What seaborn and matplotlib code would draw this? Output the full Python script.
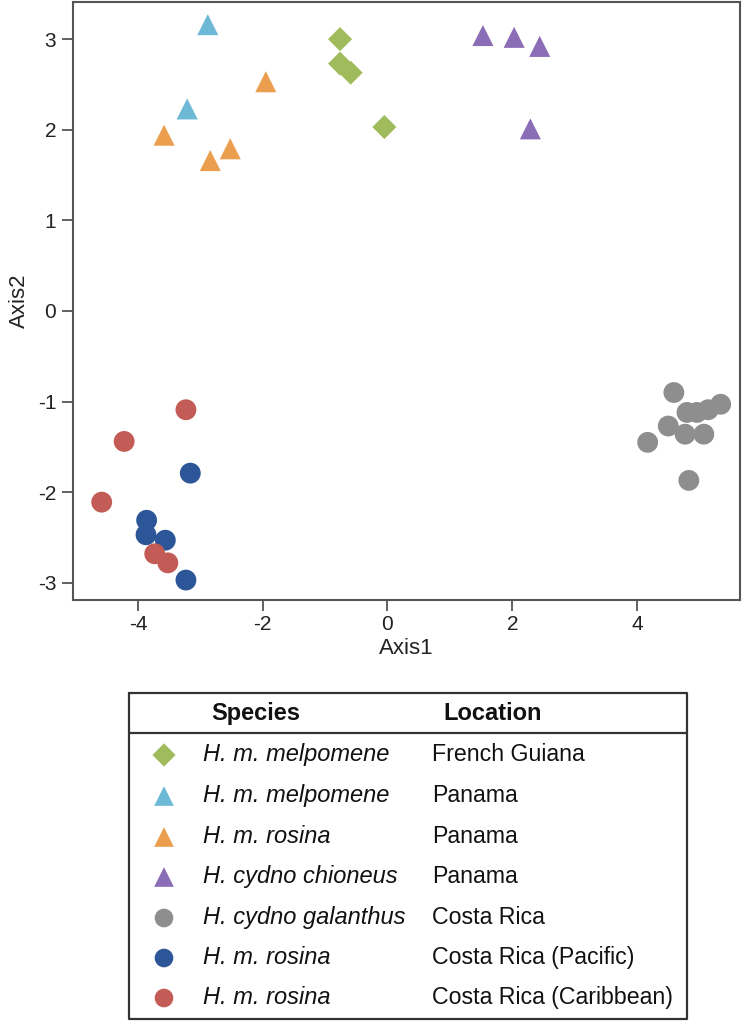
import numpy as np
import pandas as pd
import matplotlib
matplotlib.use("Agg")
import matplotlib.pyplot as plt
import seaborn as sns

# ---- data ----
species = ["H. m. melpomene", "H. m. melpomene", "H. m. rosina", "H. cydno chioneus",
           "H. cydno galanthus", "H. m. rosina", "H. m. rosina"]
locations = ["French Guiana", "Panama", "Panama", "Panama", "Costa Rica",
             "Costa Rica (Pacific)", "Costa Rica (Caribbean)"]
group_colors = ["#9fbb5c", "#6db8d5", "#eb9f4e", "#8a6db6", "#8e8e8e", "#2c5698", "#c35b56"]
group_markers = ["D", "^", "^", "^", "o", "o", "o"]

g0_x = [-0.76, -0.76, -0.59, -0.05]
g0_y = [3.00, 2.73, 2.63, 2.03]
g1_x = [-2.88, -3.21]
g1_y = [3.16, 2.23]
g2_x = [-1.95, -3.58, -2.84, -2.52]
g2_y = [2.53, 1.94, 1.66, 1.79]
g3_x = [1.53, 2.03, 2.44, 2.29]
g3_y = [3.04, 3.02, 2.92, 2.01]
g4_x = [4.59, 4.17, 4.50, 4.77, 5.07, 4.83, 4.80, 4.96, 5.14, 5.34]
g4_y = [-0.90, -1.45, -1.27, -1.36, -1.36, -1.87, -1.12, -1.12, -1.09, -1.03]
g5_x = [-3.16, -3.86, -3.87, -3.56, -3.23]
g5_y = [-1.79, -2.31, -2.47, -2.53, -2.97]
g6_x = [-3.23, -4.22, -4.58, -3.73, -3.52]
g6_y = [-1.09, -1.44, -2.11, -2.68, -2.78]

xs = [g0_x, g1_x, g2_x, g3_x, g4_x, g5_x, g6_x]
ys = [g0_y, g1_y, g2_y, g3_y, g4_y, g5_y, g6_y]

rows = []
for i, (gx, gy) in enumerate(zip(xs, ys)):
    for a, b in zip(gx, gy):
        rows.append({"Axis1": a, "Axis2": b, "group": f"g{i}"})
df = pd.DataFrame(rows)

sns.set_theme(style="white")
plt.rcParams['font.family'] = ['Liberation Sans', 'DejaVu Sans']
plt.rcParams['axes.unicode_minus'] = False

fig = plt.figure(figsize=(7.43, 10.21), dpi=100)
ax = fig.add_axes([73 / 743, 1 - 600 / 1021, 667 / 743, 598 / 1021])

sizes_map = {"D": 150, "^": 230, "o": 225}

for i in range(7):
    sub = df[df.group == f"g{i}"]
    sns.scatterplot(data=sub, x="Axis1", y="Axis2", color=group_colors[i],
                    marker=group_markers[i], s=sizes_map[group_markers[i]],
                    edgecolor="none", linewidth=0, ax=ax, legend=False, zorder=3)

ax.set_xlim(-5.04, 5.65)
ax.set_ylim(-3.19, 3.41)
ax.set_xticks([-4, -2, 0, 2, 4])
ax.set_yticks([-3, -2, -1, 0, 1, 2, 3])
ax.set_xlabel("Axis1", fontsize=16, color="#222222", labelpad=3)
ax.set_ylabel("Axis2", fontsize=16, color="#222222", labelpad=6)
ax.tick_params(axis="both", which="both", direction="out", length=8, width=1.3,
               color="#555555", labelsize=15, labelcolor="#222222",
               bottom=True, left=True, top=False, right=False)
ax.tick_params(axis="x", pad=3)
ax.tick_params(axis="y", pad=4)
for sp in ax.spines.values():
    sp.set_color("#555555")
    sp.set_linewidth(1.5)
ax.grid(False)

# ---- legend table ----
lax = fig.add_axes([0, 0, 1, 1])
lax.set_xlim(0, 743)
lax.set_ylim(1021, 0)
lax.axis("off")
lax.plot([129, 687, 687, 129, 129], [693, 693, 1019, 1019, 693], color="#333333", lw=1.6)
lax.plot([129, 687], [733, 733], color="#333333", lw=1.6)
lax.text(256, 713, "Species", ha="center", va="center", fontsize=17, fontweight="bold", color="#111111")
lax.text(493, 713, "Location", ha="center", va="center", fontsize=17, fontweight="bold", color="#111111")
row_y = [755, 796, 837, 877, 918, 958, 998]
leg_sizes = {"D": 140, "^": 200, "o": 180}
for i in range(7):
    m = group_markers[i]
    lax.scatter([164], [row_y[i]], s=leg_sizes[m],
                marker=m, color=group_colors[i], edgecolor="none")
    lax.text(203, row_y[i] - 1, species[i], ha="left", va="center", fontsize=17,
             style="italic", color="#111111")
    lax.text(432, row_y[i] - 1, locations[i], ha="left", va="center", fontsize=16.7,
             color="#111111")

fig.savefig("out.png", dpi=100)
